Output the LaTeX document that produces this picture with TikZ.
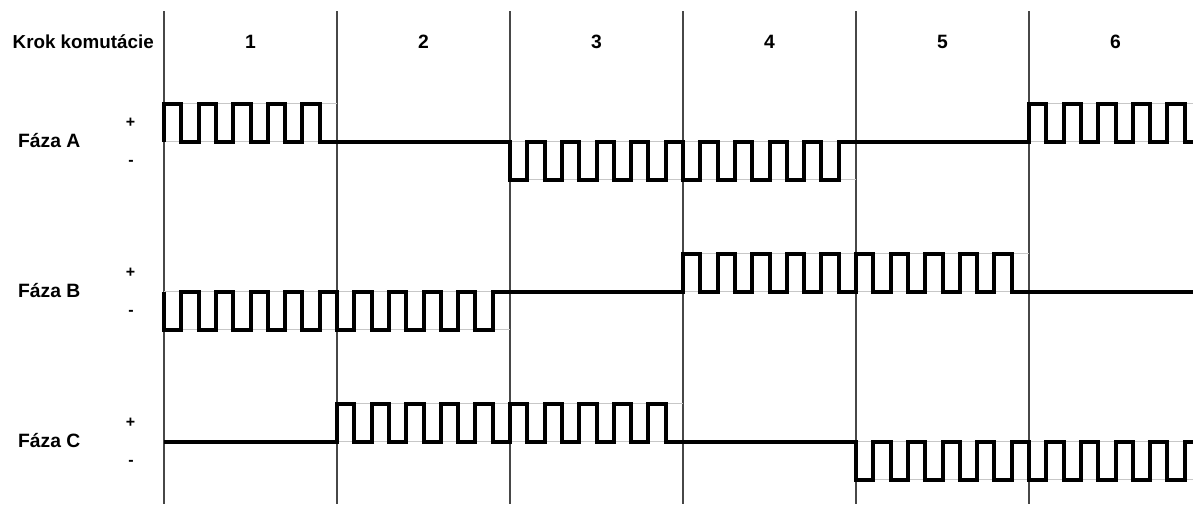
\documentclass[tikz,border=0pt]{standalone}
\usepackage{fontspec}
\setmainfont{Liberation Sans}
\begin{document}
\begin{tikzpicture}[x=1pt,y=-1pt,
  gridline/.style={line width=1.2pt, draw=black!72},
  refline/.style={line width=1pt, draw=black!22},
  wave/.style={line width=4pt, line join=miter, line cap=butt},
  lbl/.style={font=\bfseries\fontsize{19.3}{22}\selectfont, inner sep=0pt},
  hdrlbl/.style={font=\bfseries\fontsize{18.8}{22}\selectfont, inner sep=0pt},
  sgn/.style={font=\bfseries\fontsize{16}{18}\selectfont, inner sep=0pt}]
\useasboundingbox (0,0) rectangle (1193,504);
\clip (0,0) rectangle (1193,504);
% vertical step lines
\foreach \x in {164,337,510,683,856,1029}
  \draw[gridline] (\x,11) -- (\x,504);
% header
\node[hdrlbl, anchor=base west] (hdr) at (12.5,48) {Krok komutácie};
\foreach \i/\x in {1/250.5,2/423.5,3/596.5,4/769.5,5/942.5,6/1115.5}
  \node[lbl, anchor=base] (s\i) at (\x,48) {\i};
% phase labels and signs
\foreach \p/\z in {A/141.7,B/291.7,C/441.7}{
  \node[lbl, anchor=base west] (lab\p) at (18,\z+5.5) {Fáza \p};
  \node[sgn] (plus\p) at (130.5,\z-19) {+};
  \node[sgn] (minus\p) at (131,\z+21) {-};
}
% light reference lines in PWM regions
\foreach \xa/\xb/\ya/\yb in {
  164/337/103.9/141.7, 510/856/141.7/179.5, 1029/1193/103.9/141.7,
  164/510/291.7/329.5, 683/1029/253.9/291.7,
  337/683/403.9/441.7, 856/1193/441.7/479.5}{
  \draw[refline] (\xa,\ya) -- (\xb,\ya);
  \draw[refline] (\xa,\yb) -- (\xb,\yb);
}
% Phase A
\draw[wave] (164,141.7)
  \foreach \k in {1,...,5} { -- ++(0,-37.8) -- ++(17.3,0) -- ++(0,37.8) -- ++(17.3,0) }
  -- (510,141.7)
  \foreach \k in {1,...,10} { -- ++(0,37.8) -- ++(17.3,0) -- ++(0,-37.8) -- ++(17.3,0) }
  -- (1029,141.7)
  \foreach \k in {1,...,5} { -- ++(0,-37.8) -- ++(17.3,0) -- ++(0,37.8) -- ++(17.3,0) };
% Phase B
\draw[wave] (164,291.7)
  \foreach \k in {1,...,10} { -- ++(0,37.8) -- ++(17.3,0) -- ++(0,-37.8) -- ++(17.3,0) }
  -- (683,291.7)
  \foreach \k in {1,...,10} { -- ++(0,-37.8) -- ++(17.3,0) -- ++(0,37.8) -- ++(17.3,0) }
  -- (1195,291.7);
% Phase C
\draw[wave] (164,441.7) -- (337,441.7)
  \foreach \k in {1,...,10} { -- ++(0,-37.8) -- ++(17.3,0) -- ++(0,37.8) -- ++(17.3,0) }
  -- (856,441.7)
  \foreach \k in {1,...,10} { -- ++(0,37.8) -- ++(17.3,0) -- ++(0,-37.8) -- ++(17.3,0) };
\end{tikzpicture}
\end{document}
